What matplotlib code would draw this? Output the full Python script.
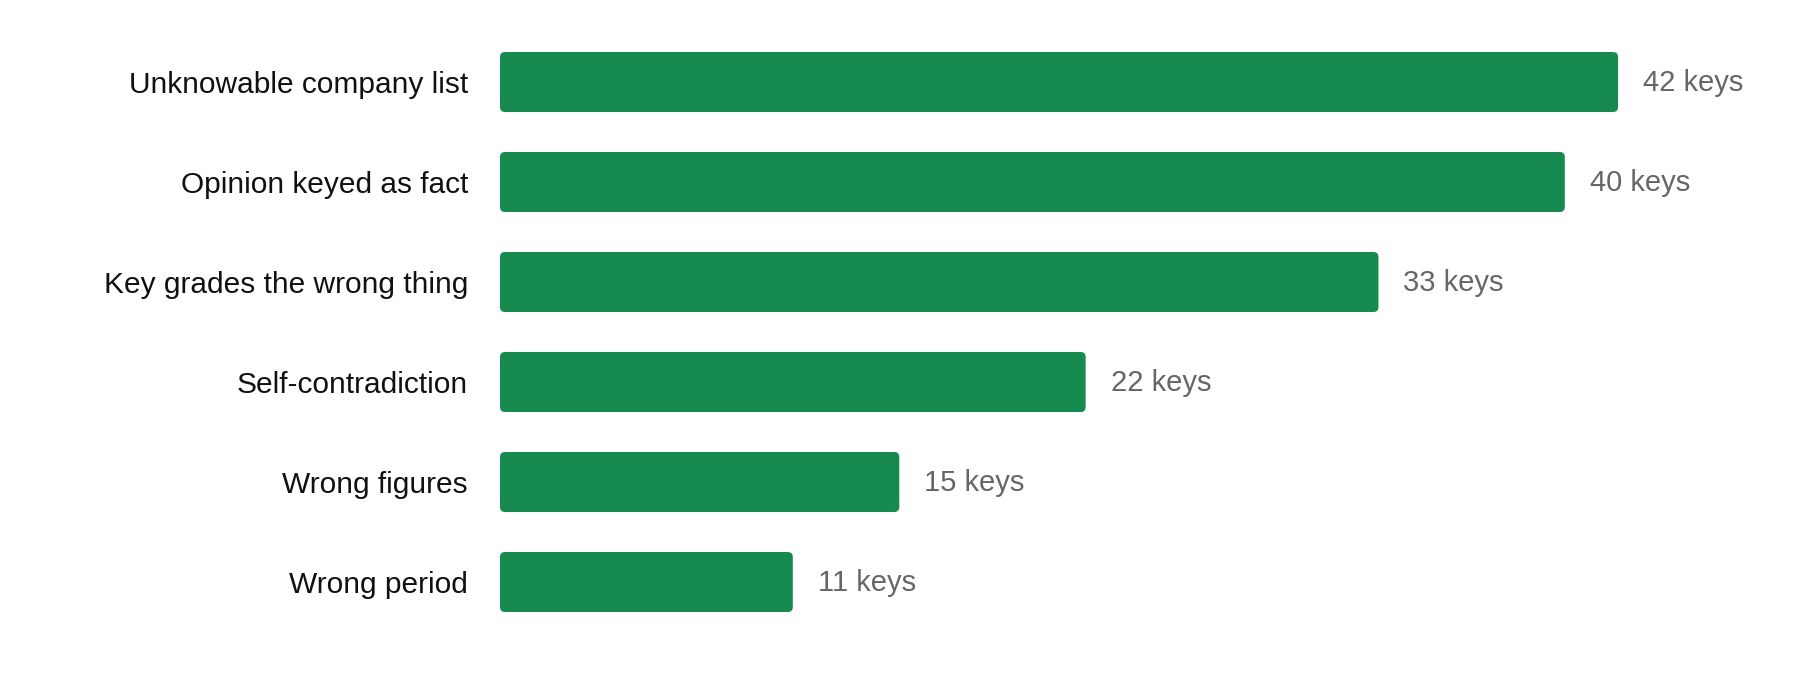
import matplotlib
matplotlib.use("Agg")
import matplotlib.pyplot as plt
from matplotlib.patches import FancyBboxPatch

# 데이터
categories = ["Unknowable company list", "Opinion keyed as fact", "Key grades the wrong thing",
              "Self-contradiction", "Wrong figures", "Wrong period"]
counts = [42, 40, 33, 22, 15, 11]
value_labels = [f"{c} keys" for c in counts]

bar_color = "#178a50"

plt.rcParams['font.family'] = ['Liberation Sans', 'DejaVu Sans']

fig = plt.figure(figsize=(18, 6.92), dpi=100)
x_max = 48
ax = fig.add_axes([500 / 1800, 1 - 632 / 692, (x_max * 26.62) / 1800, 600 / 692])

y = list(range(len(categories)))
bars = ax.barh(y, counts, height=0.6, color=bar_color)
ax.set_xlim(0, x_max)
ax.set_ylim(len(categories) - 0.5, -0.5)

# 둥근 모서리 막대로 바꾸기
px_x = 26.62   # x 1단위당 픽셀
px_y = 100.0   # y 1단위당 픽셀
for b in bars:
    x0, y0 = b.get_x(), b.get_y()
    w, h = b.get_width(), b.get_height()
    b.set_visible(False)
    rp = FancyBboxPatch((x0, y0), w, h,
                        boxstyle=f"round,pad=0,rounding_size={5 / px_x}",
                        mutation_aspect=px_x / px_y,
                        facecolor=bar_color, edgecolor="none")
    ax.add_patch(rp)

# 값 라벨
for yi, c, lab in zip(y, counts, value_labels):
    ax.text(c + 25 / px_x, yi + 0.01, lab, va="center", ha="left", fontsize=21, color="#666666")

ax.set_yticks(y)
ax.set_yticklabels(categories, fontsize=21.5, color="#111111")
ax.tick_params(axis="y", length=0, pad=23)
ax.set_xticks([])
for s in ax.spines.values():
    s.set_visible(False)

fig.savefig("out.png", dpi=100, facecolor="white")
